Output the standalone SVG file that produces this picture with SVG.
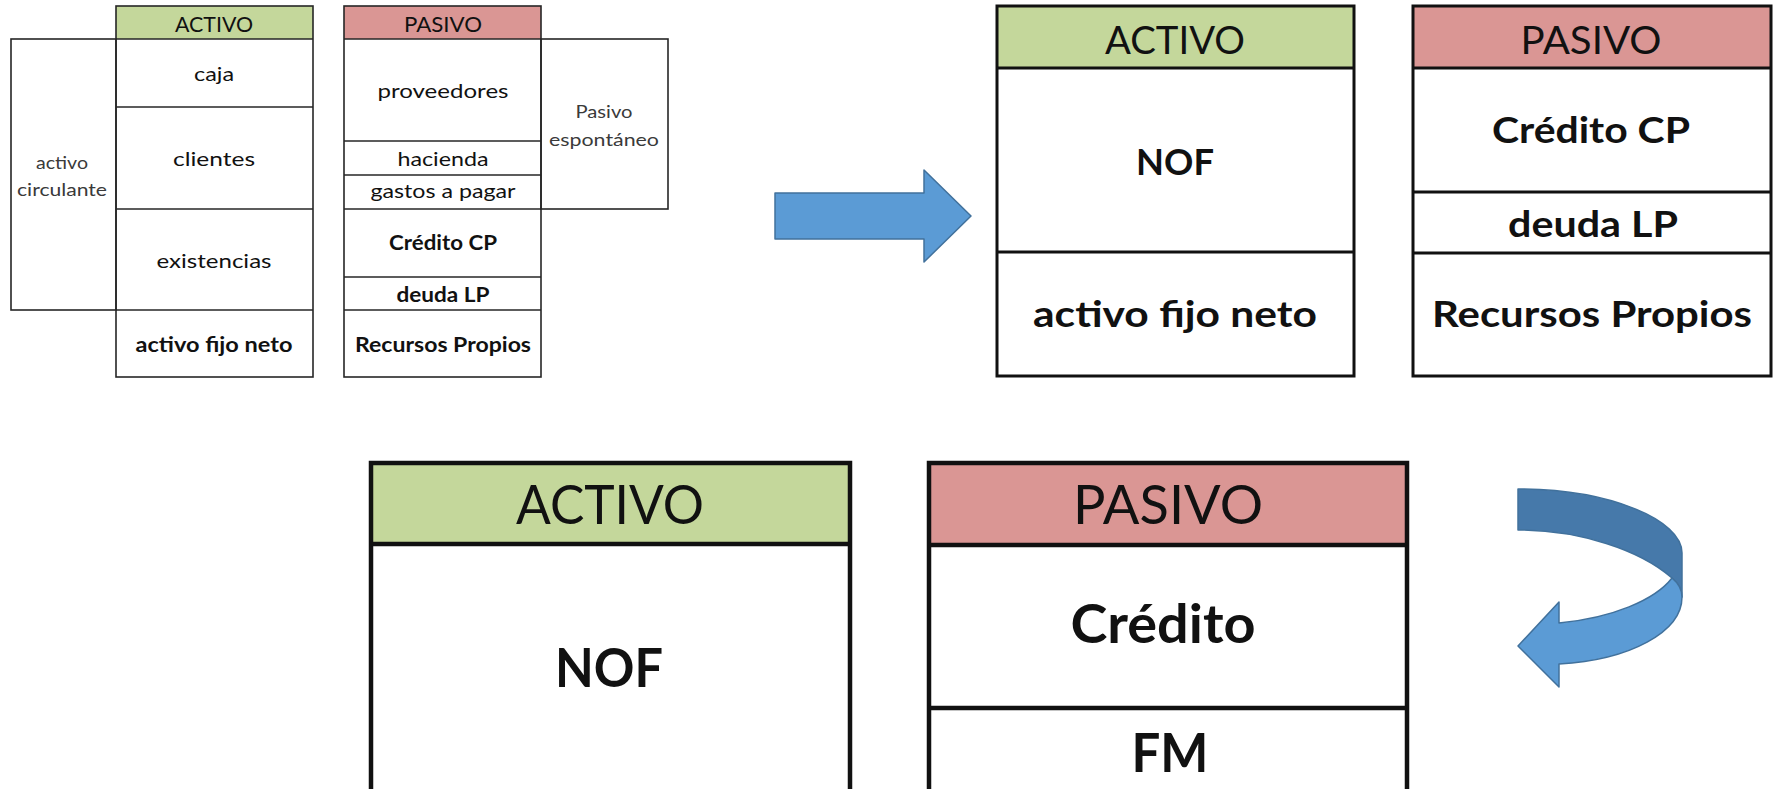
<svg xmlns="http://www.w3.org/2000/svg" width="1773" height="789" viewBox="0 0 1773 789">
  <style>
    text { font-family: Lato, "Open Sans", "Liberation Sans", sans-serif; text-anchor: middle; fill: #111; }
    .b { font-weight: 700; }
    .side { fill: #3a3a3a; font-size: 17px; }
    .s { fill: none; stroke: #262626; stroke-width: 1.6; }
    .m { fill: none; stroke: #111; stroke-width: 3; }
    .l { fill: none; stroke: #111; stroke-width: 4.5; }
    .green { fill: #c4d79b; }
    .red { fill: #da9694; }
    .arrow { fill: #5b9bd5; stroke: #41719c; stroke-width: 1.5; stroke-linejoin: round; }
    .arrow-dark { fill: #4679aa; stroke: #41719c; stroke-width: 1.5; stroke-linejoin: round; }
  </style>
  <rect width="1773" height="789" fill="#fff"/>

  <!-- Detailed balance: assets -->
  <g id="activo-detalle">
    <rect class="green" x="116" y="6" width="197" height="33"/>
    <rect class="s" x="116" y="6" width="197" height="371"/>
    <line class="s" x1="116" y1="39" x2="313" y2="39"/>
    <line class="s" x1="116" y1="107" x2="313" y2="107"/>
    <line class="s" x1="116" y1="209" x2="313" y2="209"/>
    <line class="s" x1="116" y1="310" x2="313" y2="310"/>
    <text x="214" y="32" font-size="21" textLength="78" lengthAdjust="spacingAndGlyphs">ACTIVO</text>
    <text x="214" y="81" font-size="20" textLength="40" lengthAdjust="spacingAndGlyphs">caja</text>
    <text x="214" y="166" font-size="20" textLength="82" lengthAdjust="spacingAndGlyphs">clientes</text>
    <text x="214" y="268" font-size="20" textLength="115" lengthAdjust="spacingAndGlyphs">existencias</text>
    <text class="b" x="214" y="352" font-size="20" textLength="157" lengthAdjust="spacingAndGlyphs">activo fijo neto</text>
  </g>
  <g id="activo-circulante">
    <rect class="s" x="11" y="39" width="105" height="271"/>
    <text class="side" x="62" y="169" textLength="52" lengthAdjust="spacingAndGlyphs">activo</text>
    <text class="side" x="62" y="196" textLength="90" lengthAdjust="spacingAndGlyphs">circulante</text>
  </g>

  <!-- Detailed balance: liabilities -->
  <g id="pasivo-detalle">
    <rect class="red" x="344" y="6" width="197" height="33"/>
    <rect class="s" x="344" y="6" width="197" height="371"/>
    <line class="s" x1="344" y1="39" x2="541" y2="39"/>
    <line class="s" x1="344" y1="141" x2="541" y2="141"/>
    <line class="s" x1="344" y1="175" x2="541" y2="175"/>
    <line class="s" x1="344" y1="209" x2="541" y2="209"/>
    <line class="s" x1="344" y1="277" x2="541" y2="277"/>
    <line class="s" x1="344" y1="310" x2="541" y2="310"/>
    <text x="443" y="32" font-size="21" textLength="78" lengthAdjust="spacingAndGlyphs">PASIVO</text>
    <text x="443" y="98" font-size="20" textLength="131" lengthAdjust="spacingAndGlyphs">proveedores</text>
    <text x="443" y="166" font-size="20" textLength="91" lengthAdjust="spacingAndGlyphs">hacienda</text>
    <text x="443" y="198" font-size="20" textLength="145" lengthAdjust="spacingAndGlyphs">gastos a pagar</text>
    <text class="b" x="443" y="250" font-size="20" textLength="108" lengthAdjust="spacingAndGlyphs">Crédito CP</text>
    <text class="b" x="443" y="302" font-size="20" textLength="93" lengthAdjust="spacingAndGlyphs">deuda LP</text>
    <text class="b" x="443" y="352" font-size="20" textLength="176" lengthAdjust="spacingAndGlyphs">Recursos Propios</text>
  </g>
  <g id="pasivo-espontaneo">
    <rect class="s" x="541" y="39" width="127" height="170"/>
    <text class="side" x="604" y="118" textLength="57" lengthAdjust="spacingAndGlyphs">Pasivo</text>
    <text class="side" x="604" y="146" textLength="110" lengthAdjust="spacingAndGlyphs">espontáneo</text>
  </g>

  <!-- Grouped balance: assets -->
  <g id="activo-nof">
    <rect class="green" x="997" y="6" width="357" height="62"/>
    <rect class="m" x="997" y="6" width="357" height="370"/>
    <line class="m" x1="997" y1="68" x2="1354" y2="68"/>
    <line class="m" x1="997" y1="252" x2="1354" y2="252"/>
    <text x="1175" y="54" font-size="38" textLength="140" lengthAdjust="spacingAndGlyphs">ACTIVO</text>
    <text class="b" x="1175" y="175" font-size="37" textLength="78" lengthAdjust="spacingAndGlyphs">NOF</text>
    <text class="b" x="1175" y="327" font-size="37" textLength="284" lengthAdjust="spacingAndGlyphs">activo fijo neto</text>
  </g>

  <!-- Grouped balance: liabilities -->
  <g id="pasivo-credito">
    <rect class="red" x="1413" y="6" width="358" height="62"/>
    <rect class="m" x="1413" y="6" width="358" height="370"/>
    <line class="m" x1="1413" y1="68" x2="1771" y2="68"/>
    <line class="m" x1="1413" y1="192" x2="1771" y2="192"/>
    <line class="m" x1="1413" y1="253" x2="1771" y2="253"/>
    <text x="1591" y="54" font-size="38" textLength="141" lengthAdjust="spacingAndGlyphs">PASIVO</text>
    <text class="b" x="1591" y="143" font-size="37" textLength="198" lengthAdjust="spacingAndGlyphs">Crédito CP</text>
    <text class="b" x="1593" y="237" font-size="37" textLength="170" lengthAdjust="spacingAndGlyphs">deuda LP</text>
    <text class="b" x="1592" y="327" font-size="37" textLength="320" lengthAdjust="spacingAndGlyphs">Recursos Propios</text>
  </g>

  <!-- Summary balance: assets -->
  <g id="activo-final">
    <rect class="green" x="371" y="463" width="479" height="81"/>
    <path class="l" d="M371,800 V463 H850 V800"/>
    <line class="l" x1="371" y1="544" x2="850" y2="544"/>
    <text x="610" y="524" font-size="54" textLength="188" lengthAdjust="spacingAndGlyphs">ACTIVO</text>
    <text class="b" x="609" y="687" font-size="53" textLength="108" lengthAdjust="spacingAndGlyphs">NOF</text>
  </g>

  <!-- Summary balance: liabilities -->
  <g id="pasivo-final">
    <rect class="red" x="929" y="463" width="478" height="82"/>
    <path class="l" d="M929,800 V463 H1407 V800"/>
    <line class="l" x1="929" y1="545" x2="1407" y2="545"/>
    <line class="l" x1="929" y1="708" x2="1407" y2="708"/>
    <text x="1168" y="524" font-size="54" textLength="190" lengthAdjust="spacingAndGlyphs">PASIVO</text>
    <text class="b" x="1163" y="643" font-size="54" textLength="185" lengthAdjust="spacingAndGlyphs">Crédito</text>
    <text class="b" x="1170" y="772" font-size="53" textLength="77" lengthAdjust="spacingAndGlyphs">FM</text>
  </g>

  <!-- Connectors -->
  <g id="connectors">
    <polygon class="arrow" points="775,193 924,193 924,170 971,216 924,262 924,239 775,239"/>
    <g id="curved-arrow">
      <path class="arrow-dark" d="M1518,489 C1610,489 1682,520 1682,553 L1682,597 C1682,590 1678,583 1672,578 C1640,550 1580,530 1518,530 Z"/>
      <path class="arrow" d="M1672,578 C1678,583 1682,590 1682,597 C1682,632 1630,660 1559,664 L1559,687 L1518,646 L1559,602 L1559,623 C1612,618 1655,600 1672,578 Z"/>
    </g>
  </g>
</svg>
